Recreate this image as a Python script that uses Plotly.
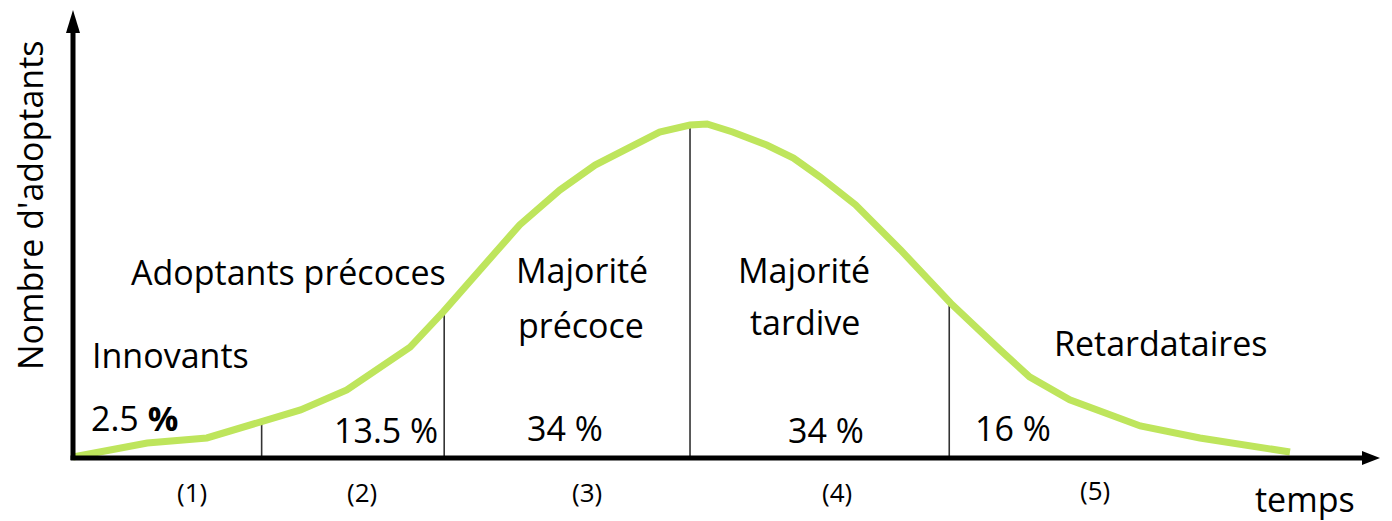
import numpy as np
import plotly.graph_objects as go

# Diffusion curve (time units, adopters units; peak = 100)
time = [0, 6.1, 11.0, 15.4, 18.7, 22.5, 27.7, 30.4, 31.4, 36.7, 40.0, 42.9, 48.2, 50.7, 52.1,
        54.2, 57.0, 59.2, 61.4, 64.3, 68.0, 72.1, 76.2, 78.6, 81.9, 85.2, 87.7, 92.6, 95.9, 100]
adopters = [0.3, 4.5, 6.0, 10.5, 14.4, 20.4, 33.2, 43.7, 47.9, 69.8, 80.2, 87.7, 97.6, 99.7, 100,
            97.6, 93.7, 89.8, 84.1, 75.8, 62.3, 46.4, 32.3, 24.3, 17.4, 13.2, 9.6, 6.0, 3.9, 1.8]

# segment boundaries
boundaries = [15.5, 30.5, 50.7, 72.0]

group_names = ["Innovants", "Adoptants précoces", "Majorité<br>précoce", "Majorité<br>tardive", "Retardataires"]
shares = ["2.5 <b>%</b>", "13.5 %", "34 %", "34 %", "16 %"]
numbers = ["(1)", "(2)", "(3)", "(4)", "(5)"]

# page geometry (the html body adds an 8px margin)
PAGE_OFF = 8
W, H = 1392 - PAGE_OFF, 521 - PAGE_OFF
ox, oy = 73 - PAGE_OFF, 458 - PAGE_OFF   # origin in figure pixels
sx, sy = 12.17, 3.34                     # pixels per unit
xr = [-ox / sx, (W - ox) / sx]
yr = [-(H - oy) / sy, oy / sy]

FONT = "Open Sans"
GREEN = "rgb(190,229,92)"

fig = go.Figure()

# dividers
tops = np.interp(boundaries, time, adopters)
for b, t in zip(boundaries, tops):
    fig.add_trace(go.Scatter(x=[b, b], y=[0, t], mode="lines",
                             line=dict(color="#333333", width=1.6), hoverinfo="skip", showlegend=False))

fig.add_trace(go.Scatter(x=time, y=adopters, mode="lines",
                         line=dict(color=GREEN, width=7), hoverinfo="skip", showlegend=False))

# axes lines
x_tip = (1380 - 73) / sx
y_tip = (458 - 10) / sy
fig.add_shape(type="line", x0=-0.2, x1=x_tip - 1.0, y0=0, y1=0, line=dict(color="black", width=5))
fig.add_shape(type="line", x0=0, x1=0, y0=-0.6, y1=y_tip - 5, line=dict(color="black", width=5))
# arrow heads (pixel-sized)
fig.add_shape(type="path", xsizemode="pixel", ysizemode="pixel", xanchor=x_tip, yanchor=0,
              path="M 0 0 L -18 7 L -18 -7 Z", fillcolor="black", line=dict(width=0))
fig.add_shape(type="path", xsizemode="pixel", ysizemode="pixel", xanchor=0, yanchor=y_tip,
              path="M 0 0 L -7 -23 L 7 -23 Z", fillcolor="black", line=dict(width=0))


def px2d(px, py):
    # px, py: pixel position in the page (screenshot) coordinates
    return (px - 73) / sx, (458 - py) / sy


def label(text, px, py, size, **kw):
    x, y = px2d(px, py)
    fig.add_annotation(x=x, y=y, text=text, showarrow=False, xanchor="center", yanchor="middle",
                       font=dict(family=FONT, size=size, color="black"), **kw)


big = 34
label(group_names[0], 170, 355, big)
label(group_names[1], 288, 272, big)
label(group_names[2].split("<br>")[0], 582, 270, big)
label(group_names[2].split("<br>")[1], 581, 325, big)
label(group_names[3].split("<br>")[0], 804, 270, big)
label(group_names[3].split("<br>")[1], 805, 322, big)
label(group_names[4], 1160, 343, big)

share_pos = [(134, 418), (386, 430), (565, 428), (826, 430), (1013, 428)]
for s, (px, py) in zip(shares, share_pos):
    label(s, px, py, big)

num_pos = [(192, 492), (362, 492), (587, 492), (837, 492), (1095, 490)]
for n, (px, py) in zip(numbers, num_pos):
    label(n, px, py, 26)

label("temps", 1305, 499, 34)
label("Nombre d'adoptants", 30, 205, 34, textangle=-90)

fig.update_layout(
    width=W, height=H, margin=dict(l=0, r=0, t=0, b=0),
    paper_bgcolor="white", plot_bgcolor="white",
    xaxis=dict(range=xr, visible=False, fixedrange=True),
    yaxis=dict(range=yr, visible=False, fixedrange=True),
    showlegend=False,
)
fig.write_html("out.html")
